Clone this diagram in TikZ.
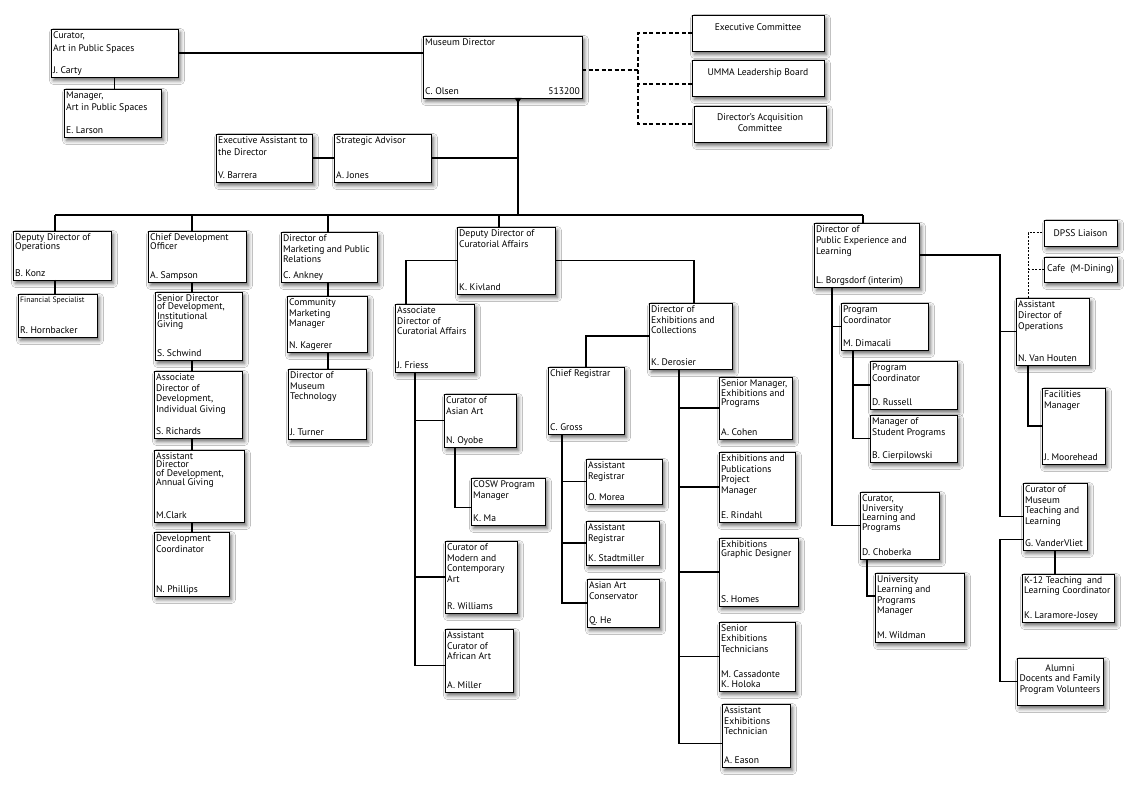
\documentclass[tikz,border=0pt]{standalone}
\usepackage{fontspec}
\setmainfont{PT Sans}
\usetikzlibrary{shadows.blur}
\tikzset{
  box/.style={draw, fill=white, line width=0.9pt, inner sep=0pt, outer sep=0pt, anchor=north west,
    blur shadow={shadow xshift=2.5pt, shadow yshift=-3.5pt, shadow blur radius=4pt, shadow opacity=60}},
  ttl/.style={anchor=north west, inner sep=0pt, align=left},
  who/.style={anchor=south west, inner sep=0pt, align=left, text depth=2pt, font=\fontsize{9.6}{10.3pt}\selectfont},
  ctr/.style={inner sep=0pt, align=center, font=\fontsize{9.6}{11.2pt}\selectfont},
  link/.style={line width=1.1pt},
  dsh/.style={line width=1.1pt, dash pattern=on 4pt off 2.5pt},
  dotln/.style={line width=1pt, dash pattern=on 2pt off 1.5pt},
}
\newcommand\orgbox[8][10.7pt]{%
  \node[box, minimum width={#5pt-#3pt}, minimum height={#6pt-#4pt}] (#2) at (#3,#4) {};
  \node[ttl, font=\fontsize{9.6}{#1}\selectfont] (#2t) at ([xshift=2pt,yshift=-2.5pt]#2.north west) {#7};
  \node[who] (#2p) at ([xshift=2pt,yshift=1.5pt]#2.south west) {#8};
}
\newcommand\plainbox[5]{%
  \node[box, minimum width={#4pt-#2pt}, minimum height={#5pt-#3pt}] (#1) at (#2,#3) {};
}
\begin{document}
\begin{tikzpicture}[x=1pt,y=-1pt]
\fill[white] (0,0) rectangle (1136,786);
\useasboundingbox (0,0) rectangle (1136,786);

% ---------- top ----------
\orgbox[13pt]{cur}{51}{29}{178}{77}{Curator,\\Art in Public Spaces}{J. Carty}
\orgbox[12pt]{man}{64}{89}{161}{137}{Manager,\\Art in Public Spaces}{E. Larson}
\orgbox{dir}{423}{36}{582}{98}{Museum Director}{C. Olsen}
\node[who, anchor=south east] (dirn) at ([xshift=-2pt,yshift=1.5pt]dir.south east) {513200};
\orgbox[12pt]{ea}{216}{134}{312}{182}{Executive Assistant to\\the Director}{V. Barrera}
\orgbox{sa}{334}{134}{431}{182}{Strategic Advisor}{A. Jones}

\plainbox{ec}{692}{15}{824}{51}
\node[ctr, anchor=base] (ect) at ([yshift=-15.5pt]ec.north) {Executive Committee};
\plainbox{umma}{692}{60}{824}{96}
\node[ctr, anchor=base] (ummat) at ([yshift=-15.5pt]umma.north) {UMMA Leadership Board};
\plainbox{dac}{694}{106}{826}{142}
\node[ctr, anchor=north] (dact) at ([yshift=-7.5pt]dac.north) {Director's Acquisition\\Committee};

% ---------- column 1-2 ----------
\orgbox[9.5pt]{ddo}{13}{231}{111}{280}{Deputy Director of\\Operations}{B. Konz}
\orgbox{fs}{18}{294}{97}{337}{\fontsize{7.8}{9}\selectfont Financial Specialist}{R. Hornbacker}
\orgbox[9pt]{cdo}{148}{231}{246}{282}{Chief Development\\Officer}{A. Sampson}
\orgbox[8.3pt]{sdd}{155}{292}{242}{360}{Senior Director\\of Development,\\Institutional\\Giving}{S. Schwind}
\orgbox[10.5pt]{add}{154}{371}{242}{438}{Associate\\Director of\\Development,\\Individual Giving}{S. Richards}
\orgbox[8.3pt]{asd}{154}{450}{244}{522}{Assistant\\Director\\of Development,\\Annual Giving}{M.Clark}
\orgbox[11pt]{dc}{154}{532}{229}{596}{Development\\Coordinator}{N. Phillips}

% ---------- marketing ----------
\orgbox{dmk}{281}{232}{377}{282}{Director of\\Marketing and Public\\Relations}{C. Ankney}
\orgbox{cmm}{287}{296}{367}{352}{Community\\Marketing\\Manager}{N. Kagerer}
\orgbox{dmt}{288}{369}{366}{439}{Director of\\Museum\\Technology}{J. Turner}

% ---------- curatorial ----------
\orgbox{ddc}{457}{227}{555}{294}{Deputy Director of\\Curatorial Affairs}{K. Kivland}
\orgbox{adc}{395}{304}{474}{372}{Associate\\Director of\\Curatorial Affairs}{J. Friess}
\orgbox{asian}{444}{394}{516}{447}{Curator of\\Asian Art}{N. Oyobe}
\orgbox{cosw}{471}{478}{545}{525}{COSW Program\\Manager}{K. Ma}
\orgbox{cmod}{445}{541}{517}{613}{Curator of\\Modern and\\Contemporary\\Art}{R. Williams}
\orgbox{afr}{445}{629}{513}{692}{Assistant\\Curator of\\African Art}{A. Miller}

% ---------- exhibitions ----------
\orgbox{dec}{649}{303}{732}{369}{Director of\\Exhibitions and\\Collections}{K. Derosier}
\orgbox{cr}{548}{367}{624}{434}{Chief Registrar}{C. Gross}
\orgbox{ar1}{586}{459}{662}{504}{Assistant\\Registrar}{O. Morea}
\orgbox{ar2}{586}{521}{659}{565}{Assistant\\Registrar}{K. Stadtmiller}
\orgbox{aac}{587}{579}{659}{627}{Asian Art\\Conservator}{Q. He}
\orgbox[9.7pt]{smx}{719}{377}{792}{439}{Senior Manager,\\Exhibitions and\\Programs}{A. Cohen}
\orgbox{epp}{719}{452}{795}{522}{Exhibitions and\\Publications\\Project\\Manager}{E. Rindahl}
\orgbox[9pt]{egd}{719}{538}{798}{606}{Exhibitions\\Graphic Designer}{S. Homes}
\orgbox[10.3pt]{set}{719}{622}{795}{691}{Senior\\Exhibitions\\Technicians}{M. Cassadonte\\K. Holoka}
\orgbox{aet}{722}{704}{790}{767}{Assistant\\Exhibitions\\Technician}{A. Eason}

% ---------- public experience ----------
\orgbox[11pt]{dpe}{814}{223}{919}{287}{Director of\\Public Experience and\\Learning}{L. Borgsdorf (interim)}
\orgbox[11pt]{pcm}{841}{303}{928}{350}{Program\\Coordinator}{M. Dimacali}
\orgbox[11pt]{prc}{870}{361}{957}{409}{Program\\Coordinator}{D. Russell}
\orgbox{msp}{870}{415}{957}{462}{Manager of\\Student Programs}{B. Cierpilowski}
\orgbox[9.7pt]{cul}{860}{492}{939}{559}{Curator,\\University\\Learning and\\Programs}{D. Choberka}
\orgbox[10.5pt]{ulm}{875}{573}{964}{642}{University\\Learning and\\Programs\\Manager}{M. Wildman}
\orgbox[11pt]{ado}{1016}{298}{1089}{365}{Assistant\\Director of\\Operations}{N. Van Houten}
\plainbox{dpss}{1044}{220}{1117}{246}
\node[ctr] (dpsst) at (dpss.center) {DPSS Liaison};
\plainbox{cafe}{1044}{257}{1117}{282}
\node[ctr] (cafet) at (cafe.center) {Cafe\ \ (M-Dining)};
\orgbox[11pt]{fm}{1042}{388}{1105}{464}{Facilities\\Manager}{J. Moorehead}
\orgbox{cmt}{1023}{483}{1087}{550}{Curator of\\Museum\\Teaching and\\Learning}{G. VanderVliet}
\orgbox[10.3pt]{k12}{1022}{574}{1114}{622}{K-12 Teaching\ \ and\\Learning Coordinator}{K. Laramore-Josey}
\plainbox{alu}{1017}{658}{1103}{705}
\node[ctr, font=\fontsize{9.6}{10.5pt}\selectfont] (alut) at ([yshift=2pt]alu.center) {Alumni\\Docents and Family\\Program Volunteers};

% ---------- junction coordinates ----------
\coordinate (b1) at (55,215);
\coordinate (b2) at (192,215);
\coordinate (b3) at (328,215);
\coordinate (b4) at (499,215);
\coordinate (tk) at (518,215);
\coordinate (busR) at (863,215);
\coordinate (dj) at (638,70);
\coordinate (xa) at (406,0);
\coordinate (xb) at (415,0);
\coordinate (xc) at (455,0);
\coordinate (xd) at (694,0);
\coordinate (xe) at (562,0);
\coordinate (xf) at (679,0);
\coordinate (xg) at (1000,0);
\coordinate (xh) at (832,0);
\coordinate (xi) at (853,0);
\coordinate (xj) at (867,0);
\coordinate (xk) at (1028,0);
\coordinate (tri) at (dir.south -| tk);

% ---------- connectors ----------
\draw[link] (cur.east) -- (cur.east -| dir.west);
\draw[link] (cur.south) -- (cur.south |- man.north);
\draw[link] (tri) -- (tk);
\fill ([xshift=-3.5pt]tri) -- ([xshift=3.5pt]tri) -- ([yshift=-5pt]tri) -- cycle;
\draw[link] (ea.east) -- (sa.west);
\draw[link] (sa.east) -- (sa.east -| tk);
\draw[dsh] (dj -| dir.east) -- (dj);
\draw[dsh] (ec.west) -| (dj |- dac.west) -- (dac.west);
\draw[dsh] ([yshift=-6pt]umma.west) -- ++(-54pt,0);

\draw[link] (b1) -- (busR);
\draw[link] (b1) -- (b1 |- ddo.north);
\draw[link] (b1 |- ddo.south) -- (b1 |- fs.north);
\draw[link] (b2) -- (b2 |- cdo.north);
\draw[link] (b2 |- cdo.south) -- (b2 |- sdd.north);
\draw[link] (b2 |- sdd.south) -- (b2 |- add.north);
\draw[link] (b2 |- add.south) -- (b2 |- asd.north);
\draw[link] (b2 |- asd.south) -- (b2 |- dc.north);
\draw[link] (b3) -- (b3 |- dmk.north);
\draw[link] (b3 |- dmk.south) -- (b3 |- cmm.north);
\draw[link] (b3 |- cmm.south) -- (b3 |- dmt.north);
\draw[link] (b4) -- (b4 |- ddc.north);
\draw[link] (busR) -- (busR |- dpe.north);

\draw[link] (ddc.west) -| (xa |- adc.north);
\draw[link] (ddc.east) -| (xd |- dec.north);
\draw[link] (xb |- adc.south) |- ([yshift=-5pt]afr.west);
\draw[link] (xb |- asian.west) -- (asian.west);
\draw[link] (xb |- cmod.west) -- (cmod.west);
\draw[link] (xc |- asian.south) |- ([yshift=-6pt]cosw.west);

\draw[link] (dec.west) -| (cr.north);
\draw[link] (xe |- cr.south) |- (aac.west);
\draw[link] (xe |- ar1.west) -- (ar1.west);
\draw[link] (xe |- ar2.west) -- (ar2.west);
\draw[link] (xf |- dec.south) |- ([yshift=-8pt]aet.west);
\draw[link] (xf |- smx.west) -- (smx.west);
\draw[link] (xf |- epp.west) -- (epp.west);
\draw[link] (xf |- egd.west) -- (egd.west);
\draw[link] (xf |- set.west) -- (set.west);

\draw[link] (dpe.east) -| (xg |- cmt.west) -- (cmt.west);
\draw[link] (xg |- ado.west) -- (ado.west);
\draw[link] ([yshift=-23pt]cmt.west) -- ++(-23pt,0) |- (alu.west);
\draw[link] (cmt.south) -- (cmt.south |- k12.north);
\draw[link] (xh |- dpe.south) |- (cul.west);
\draw[link] (xh |- pcm.west) -- (pcm.west);
\draw[link] (xi |- pcm.south) |- (msp.west);
\draw[link] (xi |- prc.west) -- (prc.west);
\draw[link] (xj |- cul.south) |- ([yshift=11.5pt]ulm.west);
\draw[link] (xk |- ado.south) |- (fm.west);
\draw[dotln] (xk |- ado.north) |- (dpss.west);
\draw[dotln] (xk |- cafe.west) -- (cafe.west);
\end{tikzpicture}
\end{document}
